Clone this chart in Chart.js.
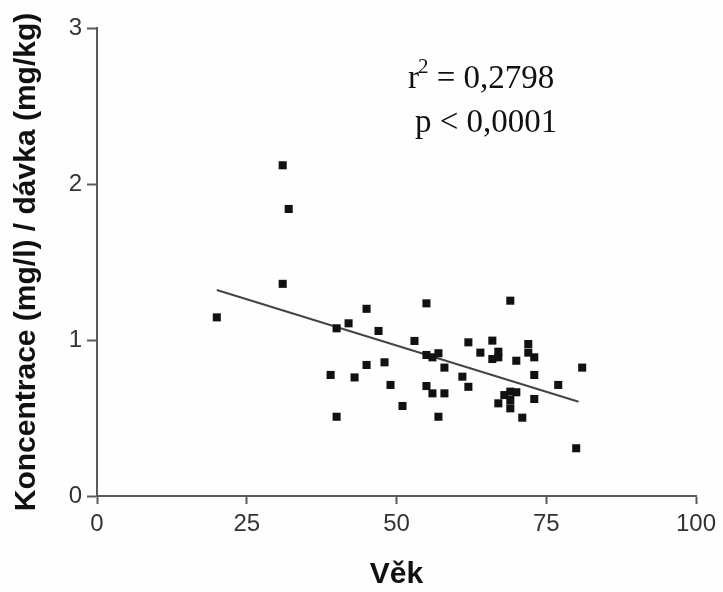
<!DOCTYPE html>
<html>
<head>
<meta charset="utf-8">
<script src="https://cdn.jsdelivr.net/npm/chart.js@4/dist/chart.umd.min.js"></script>
<style>
  html, body { margin: 0; padding: 0; background: #fefefe; }
  #wrap { width: 723px; height: 592px; }
</style>
</head>
<body>
<div id="wrap"><canvas id="c" width="723" height="592"></canvas></div>
<script>
// Age (Věk) of each patient
const ages = [31, 32, 31, 20,
  45, 55, 40, 42, 47, 53,
  55, 56, 57, 58, 61,
  45, 48, 39, 43, 49,
  55, 56, 58, 51, 40, 57,
  69, 62, 66, 64, 67, 66, 67,
  70, 72, 72, 73, 73, 77, 81,
  62, 67, 68, 69, 70, 69, 69, 73, 71, 80];
// Concentration (mg/l) / dose (mg/kg)
const ratios = [2.12, 1.84, 1.36, 1.145,
  1.20, 1.235, 1.075, 1.107, 1.058, 0.994,
  0.904, 0.889, 0.915, 0.823, 0.765,
  0.84, 0.857, 0.776, 0.76, 0.712,
  0.705, 0.658, 0.658, 0.577, 0.508, 0.508,
  1.252, 0.985, 0.996, 0.919, 0.925, 0.878, 0.889,
  0.867, 0.974, 0.919, 0.889, 0.776, 0.712, 0.823,
  0.70, 0.594, 0.647, 0.669, 0.665, 0.562, 0.615, 0.622, 0.502, 0.306];
// Regression line end points
const fitX = [20, 80.4];
const fitY = [1.32, 0.604];
// Ticks
const xTicks = [0, 25, 50, 75, 100];
const yTicks = [0, 1, 2, 3];
const statLines = ["0,2798", "p < 0,0001"];

const pts = ages.map((a, i) => ({ x: a, y: ratios[i] }));
const fit = fitX.map((a, i) => ({ x: a, y: fitY[i] }));

const bgPlugin = {
  id: 'bg',
  beforeDraw(chart) {
    const ctx = chart.ctx;
    ctx.save();
    ctx.fillStyle = '#fefefe';
    ctx.fillRect(0, 0, chart.width, chart.height);
    ctx.restore();
  }
};

const statPlugin = {
  id: 'stats',
  afterDraw(chart) {
    const ctx = chart.ctx;
    const a = chart.chartArea;
    ctx.save();
    ctx.fillStyle = '#111';
    ctx.textBaseline = 'alphabetic';
    ctx.textAlign = 'left';
    const big = '33px "Liberation Serif", "Times New Roman", serif';
    const small = '21px "Liberation Serif", "Times New Roman", serif';
    let x = a.left + 311;
    const y1 = 88;
    ctx.font = big;
    ctx.fillText('r', x, y1);
    x += ctx.measureText('r').width;
    ctx.font = small;
    ctx.fillText('2', x - 1, y1 - 15);
    x += ctx.measureText('2').width - 1;
    ctx.font = big;
    ctx.fillText(' = ' + statLines[0], x, y1);
    ctx.fillText(statLines[1], a.left + 318, 132);
    ctx.restore();
  }
};

new Chart(document.getElementById('c'), {
  type: 'scatter',
  data: {
    datasets: [
      {
        data: pts,
        pointStyle: 'rect',
        pointRadius: 5.7,
        pointHoverRadius: 5.7,
        backgroundColor: '#111',
        borderWidth: 0
      },
      {
        type: 'line',
        data: fit,
        showLine: true,
        borderColor: '#444',
        borderWidth: 2,
        pointRadius: 0,
        fill: false
      }
    ]
  },
  options: {
    responsive: false,
    animation: false,
    events: [],
    layout: { padding: { top: 28, right: 27, left: 0, bottom: 0 } },
    plugins: { legend: { display: false }, tooltip: { enabled: false } },
    scales: {
      x: {
        type: 'linear',
        min: 0, max: 100,
        afterFit(s) { s.height = 96; },
        afterBuildTicks(s) { s.ticks = xTicks.map(v => ({ value: v })); },
        grid: { display: true, drawOnChartArea: false, drawTicks: true, tickLength: 8, tickWidth: 2, color: '#5a5a5a' },
        border: { display: true, color: '#5a5a5a', width: 2 },
        ticks: { padding: 6, color: '#333', font: { family: '"Liberation Sans", Arial, sans-serif', size: 24 } },
        title: {
          display: true, text: 'Věk', color: '#111',
          font: { family: '"Liberation Sans", Arial, sans-serif', size: 30, weight: 'bold', lineHeight: 1 },
          padding: { top: 0, bottom: 2 }
        }
      },
      y: {
        type: 'linear',
        min: 0, max: 3,
        afterFit(s) { s.width = 97; },
        afterBuildTicks(s) { s.ticks = yTicks.map(v => ({ value: v })); },
        grid: { display: true, drawOnChartArea: false, drawTicks: true, tickLength: 10, tickWidth: 2, color: '#5a5a5a' },
        border: { display: true, color: '#5a5a5a', width: 2 },
        ticks: { padding: 5, color: '#333', font: { family: '"Liberation Sans", Arial, sans-serif', size: 24 } },
        title: {
          display: true, text: 'Koncentrace (mg/l) / dávka (mg/kg)', color: '#111',
          font: { family: '"Liberation Sans", Arial, sans-serif', size: 30, weight: 'bold', lineHeight: 1 },
          padding: { top: 12, bottom: 0 }
        }
      }
    }
  },
  plugins: [bgPlugin, statPlugin]
});
</script>
</body>
</html>
